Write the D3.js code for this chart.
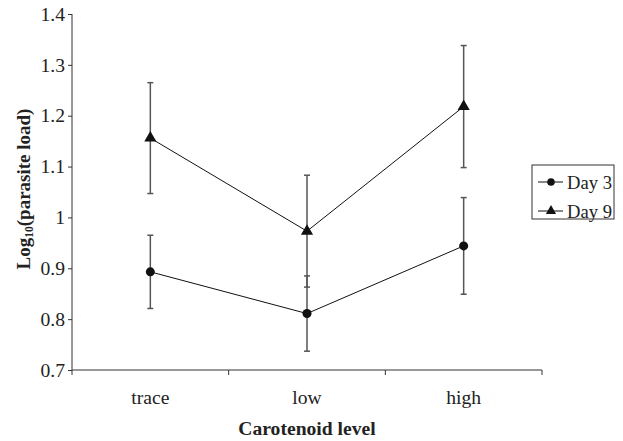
<!DOCTYPE html>
<html>
<head>
<meta charset="utf-8">
<script src="https://cdn.jsdelivr.net/npm/d3@7"></script>
<style>
  body { margin: 0; background: #fff; }
</style>
</head>
<body>
<div id="chart"></div>
<script>
// ─── data ───
const categories = ['trace', 'low', 'high'];
const day3 = [0.893, 0.811, 0.944];
const day3Err = [0.072, 0.074, 0.095];
const day9 = [1.156, 0.973, 1.218];
const day9Err = [0.109, 0.110, 0.120];
const yTicks = [0.7, 0.8, 0.9, 1, 1.1, 1.2, 1.3, 1.4];

const series = [
  { name: 'Day 3', values: day3, err: day3Err, symbol: d3.symbolCircle },
  { name: 'Day 9', values: day9, err: day9Err, symbol: d3.symbolTriangle }
];

const FONT = '"Times New Roman", "Liberation Serif", Times, serif';
const FS = 19.6;
const width = 623, height = 441;
const margin = { left: 72, right: 81, top: 14, bottom: 71 };

const svg = d3.select('#chart').append('svg')
  .attr('width', width)
  .attr('height', height)
  .attr('font-family', FONT);

const x = d3.scaleBand()
  .domain(categories)
  .range([margin.left, width - margin.right]);

const y = d3.scaleLinear()
  .domain([0.7, 1.4])
  .range([height - margin.bottom, margin.top]);

const fmt = d => d === 1 ? '1' : d3.format('.1f')(d);

// y axis
const yAxis = svg.append('g')
  .attr('transform', `translate(${margin.left},0)`)
  .call(d3.axisLeft(y).tickValues(yTicks).tickFormat(fmt).tickSize(4).tickPadding(3))
  .attr('font-family', FONT)
  .attr('font-size', FS);
yAxis.select('.domain').attr('d', `M0,${y(1.4)}V${y(0.7) + 5}`);
yAxis.selectAll('line, path').attr('stroke', '#333');
yAxis.selectAll('text').attr('fill', '#222');

// x axis: ticks sit on the band edges, labels on the band centres
const xAxis = svg.append('g')
  .attr('transform', `translate(0,${y(0.7)})`);
xAxis.append('line')
  .attr('x1', margin.left).attr('x2', width - margin.right)
  .attr('stroke', '#333');
xAxis.selectAll('.edge')
  .data(categories.slice(1).map(c => x(c)).concat([x.range()[1]]))
  .enter().append('line')
  .attr('x1', d => d).attr('x2', d => d)
  .attr('y1', 0).attr('y2', 5)
  .attr('stroke', '#333');
xAxis.selectAll('.lbl')
  .data(categories)
  .enter().append('text')
  .attr('x', d => x(d) + x.bandwidth() / 2)
  .attr('y', 34)
  .attr('text-anchor', 'middle')
  .attr('font-size', FS)
  .attr('fill', '#222')
  .text(d => d);

// axis titles
svg.append('text')
  .attr('x', x(categories[1]) + x.bandwidth() / 2)
  .attr('y', 435)
  .attr('text-anchor', 'middle')
  .attr('font-size', FS)
  .attr('font-weight', 'bold')
  .attr('fill', '#222')
  .text('Carotenoid level');

const yTitle = svg.append('text')
  .attr('transform', 'translate(30,189) rotate(-90)')
  .attr('text-anchor', 'middle')
  .attr('font-size', 19)
  .attr('font-weight', 'bold')
  .attr('fill', '#222');
yTitle.append('tspan').text('Log');
yTitle.append('tspan').attr('font-size', 11.5).attr('dy', 3).text('10');
yTitle.append('tspan').attr('dy', -3).text('(parasite load)');

// series
const cx = c => x(c) + x.bandwidth() / 2;
const line = d3.line().x(d => cx(d.cat)).y(d => y(d.v));

series.forEach(s => {
  const pts = categories.map((c, i) => ({ cat: c, v: s.values[i], e: s.err[i] }));
  const g = svg.append('g');

  // error bars
  const eb = g.selectAll('.eb').data(pts).enter().append('g');
  eb.append('line')
    .attr('x1', d => cx(d.cat)).attr('x2', d => cx(d.cat))
    .attr('y1', d => y(d.v - d.e)).attr('y2', d => y(d.v + d.e))
    .attr('stroke', '#555').attr('stroke-width', 1.5);
  [-1, 1].forEach(sign => {
    eb.append('line')
      .attr('x1', d => cx(d.cat) - 3).attr('x2', d => cx(d.cat) + 3)
      .attr('y1', d => y(d.v + sign * d.e)).attr('y2', d => y(d.v + sign * d.e))
      .attr('stroke', '#555').attr('stroke-width', 1.5);
  });

  g.append('path')
    .attr('d', line(pts))
    .attr('fill', 'none')
    .attr('stroke', '#111')
    .attr('stroke-width', 1);

  g.selectAll('.pt').data(pts).enter().append('path')
    .attr('transform', d => `translate(${cx(d.cat)},${y(d.v)})`)
    .attr('d', d3.symbol().type(s.symbol).size(64))
    .attr('fill', '#111');
});

// legend
const legend = svg.append('g').attr('transform', 'translate(532,165)');
legend.append('rect')
  .attr('width', 82).attr('height', 54)
  .attr('fill', 'none').attr('stroke', '#333');
series.forEach((s, i) => {
  const row = legend.append('g').attr('transform', `translate(0,${17 + i * 29})`);
  row.append('line').attr('x1', 6).attr('x2', 31).attr('stroke', '#111');
  row.append('path')
    .attr('transform', 'translate(19,0)')
    .attr('d', d3.symbol().type(s.symbol).size(45))
    .attr('fill', '#111');
  row.append('text')
    .attr('x', 35).attr('y', 6.5)
    .attr('font-size', 18.6)
    .attr('fill', '#222')
    .text(s.name);
});
</script>
</body>
</html>
